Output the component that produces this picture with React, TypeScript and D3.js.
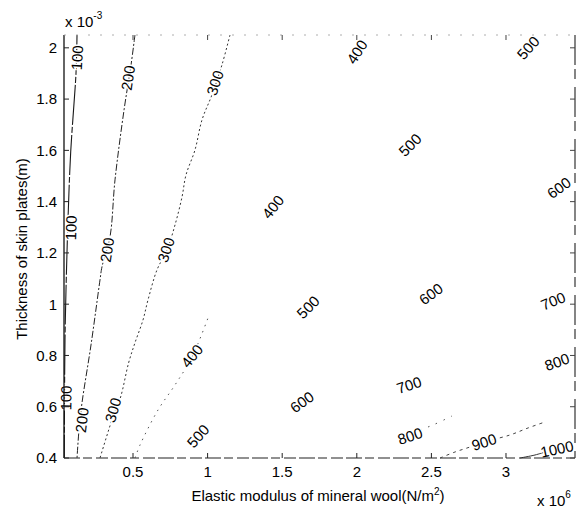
import React from 'react';
import * as d3 from 'd3';

// Axis ranges (E in 1e6 N/m^2, t in 1e-3 m)
const xDomain: [number, number] = [0.0375, 3.4625];
const yDomain: [number, number] = [0.4, 2.05];
const xTicks = [0.5, 1, 1.5, 2, 2.5, 3];
const yTicks = [0.4, 0.6, 0.8, 1, 1.2, 1.4, 1.6, 1.8, 2];

// Visible contour traces, as [E, t]
const contour100: [number, number][] = [
  [0.1247, 2.05], [0.118, 1.902], [0.0824, 1.594], [0.0643, 1.329],
  [0.0509, 1.056], [0.0442, 0.86], [0.0409, 0.626], [0.0395, 0.4],
];
const contour200: [number, number][] = [
  [0.513, 2.05], [0.487, 1.934], [0.44, 1.758], [0.3794, 1.485], [0.3458, 1.2625],
  [0.292, 1.1454], [0.2788, 1.0946], [0.2185, 0.841], [0.158, 0.6146], [0.138, 0.509], [0.1247, 0.4],
];
const contour300: [number, number][] = [
  [1.15, 2.05], [1.0965, 1.934], [1.0295, 1.817], [0.9625, 1.719], [0.9156, 1.602],
  [0.8552, 1.504], [0.8284, 1.418], [0.7815, 1.309], [0.728, 1.212], [0.6609, 1.134],
  [0.6005, 1.0166], [0.567, 0.9385], [0.513, 0.849], [0.4705, 0.771], [0.417, 0.638],
  [0.37, 0.568], [0.2788, 0.4],
];
const contour400: [number, number][] = [
  [0.5134, 0.4], [0.547, 0.4507], [0.6676, 0.5873], [0.7815, 0.6849], [0.8954, 0.794], [1.0027, 0.9463],
];
const contour800: [number, number][] = [
  [2.4236, 0.5093], [2.5107, 0.5288], [2.638, 0.5639],
];
const contour900: [number, number][] = [
  [2.558, 0.4], [2.658, 0.4234], [2.759, 0.4429], [2.853, 0.4624], [3.0268, 0.4898],
  [3.1475, 0.5171], [3.2614, 0.5405],
];
const contour1000: [number, number][] = [
  [3.094, 0.4], [3.1944, 0.4117], [3.2614, 0.4234],
];

// Contour labels: level, E, t, angle (deg, counter-clockwise)
const labelLevels = [100, 100, 100, 200, 200, 200, 300, 300, 300, 400, 400, 400, 500, 500, 500, 500, 600, 600, 600, 700, 700, 800, 800, 900, 1000];
const labelE = [0.125, 0.0845, 0.051, 0.4665, 0.3257, 0.158, 1.0496, 0.7212, 0.366, 2.0013, 1.4383, 0.8954, 3.148, 2.3566, 1.673, 0.9357, 3.3552, 2.4973, 1.6327, 3.315, 2.3499, 3.3418, 2.3566, 2.8532, 3.3418];
const labelT = [1.961, 1.2976, 0.634, 1.883, 1.2117, 0.548, 1.8634, 1.2117, 0.5873, 1.984, 1.3795, 0.798, 2.0, 1.6215, 0.989, 0.4859, 1.4537, 1.04, 0.6185, 1.0127, 0.6849, 0.7746, 0.4859, 0.4624, 0.4351];
const labelAngle = [87, 88, 89, 82, 81, 83, 72, 72, 74, 57, 51, 51, 48, 45, 45, 48, 36, 36, 36, 22, 18, 20, 18, 18, 12];

const FONT = "'Liberation Sans', Arial, Helvetica, sans-serif";

export default function App() {
  const x = d3.scaleLinear().domain(xDomain).range([64, 575]);
  const y = d3.scaleLinear().domain(yDomain).range([458, 35]);
  const line = d3
    .line<[number, number]>()
    .x((d) => x(d[0]))
    .y((d) => y(d[1]))
    .curve(d3.curveCatmullRom);

  const traces = [
    { data: contour100, stroke: '#1a1a1a', width: 1.1, dash: '40 2 6 2' },
    { data: contour200, stroke: '#222', width: 1, dash: '7 2 2 2' },
    { data: contour300, stroke: '#333', width: 1, dash: '2 2.5' },
    { data: contour400, stroke: '#555', width: 1, dash: '1.5 5' },
    { data: contour800, stroke: '#555', width: 1, dash: '1.5 7' },
    { data: contour900, stroke: '#444', width: 1, dash: '3 4' },
    { data: contour1000, stroke: '#333', width: 1, dash: '' },
  ];

  const [x0, x1] = x.range();
  const [yb, yt] = y.range();

  return (
    <svg width={580} height={512} style={{ position: 'absolute', left: 0, top: 0, background: '#fff' }} fontFamily={FONT}>
      <rect x={0} y={0} width={580} height={512} fill="#fff" />
      {traces.map((t, i) => (
        <path key={i} d={line(t.data) || ''} fill="none" stroke={t.stroke} strokeWidth={t.width} strokeDasharray={t.dash || undefined} />
      ))}
      {labelLevels.map((lv, i) => (
        <text
          key={'l' + i}
          transform={`translate(${x(labelE[i])},${y(labelT[i])}) rotate(${-labelAngle[i]})`}
          textAnchor="middle"
          dy="0.36em"
          fontSize={15}
          fill="#000"
          stroke="#fff"
          strokeWidth={3}
          paintOrder="stroke"
        >
          {lv}
        </text>
      ))}
      {/* axes box */}
      <line x1={x0} x2={x0} y1={yt} y2={yb} stroke="#111" strokeWidth={1.3} />
      <line x1={x0} x2={x1} y1={yb} y2={yb} stroke="#222" strokeWidth={1.2} strokeDasharray="16 3 9 4 12 3" />
      <line x1={x1} x2={x1} y1={yt} y2={yb} stroke="#222" strokeWidth={1.1} strokeDasharray="30 4 10 8" />
      <line x1={x0} x2={x1} y1={yt} y2={yt} stroke="#999" strokeWidth={0.8} strokeDasharray="2 10" />
      {xTicks.map((v) => (
        <g key={'xt' + v}>
          <line x1={x(v)} x2={x(v)} y1={yb} y2={yb - 5} stroke="#222" />
          <line x1={x(v)} x2={x(v)} y1={yt} y2={yt + 5} stroke="#444" />
          <text x={x(v)} y={477} textAnchor="middle" fontSize={15} fill="#000">
            {String(v)}
          </text>
        </g>
      ))}
      {yTicks.map((v) => (
        <g key={'yt' + v}>
          <line x1={x0} x2={x0 + 5} y1={y(v)} y2={y(v)} stroke="#222" />
          <line x1={x1} x2={x1 - 5} y1={y(v)} y2={y(v)} stroke="#444" />
          <text x={57} y={y(v)} dy="0.36em" textAnchor="end" fontSize={15} fill="#000">
            {String(v)}
          </text>
        </g>
      ))}
      <text x={65} y={27} fontSize={15} fill="#000">
        x 10<tspan dy={-8} fontSize={10}>-3</tspan>
      </text>
      <text x={537} y={506} fontSize={15} fill="#000">
        x 10<tspan dy={-8} fontSize={10}>6</tspan>
      </text>
      <text x={318} y={501} textAnchor="middle" fontSize={15} fill="#000">
        Elastic modulus of mineral wool(N/m<tspan dy={-6} fontSize={10}>2</tspan>
        <tspan dy={6}>)</tspan>
      </text>
      <text transform="translate(27,249) rotate(-90)" textAnchor="middle" fontSize={15} fill="#000">
        Thickness of skin plates(m)
      </text>
    </svg>
  );
}
